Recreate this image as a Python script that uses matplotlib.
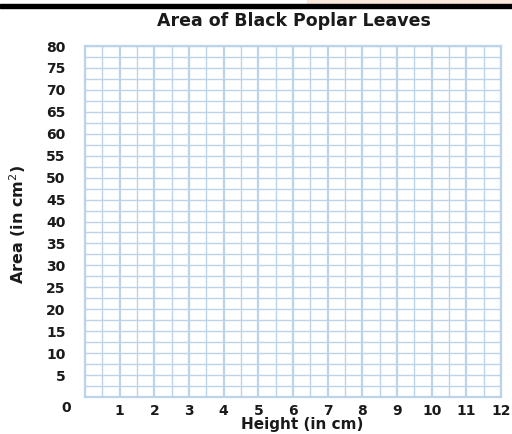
import matplotlib
matplotlib.use("Agg")
import matplotlib.pyplot as plt
from matplotlib.patches import Rectangle

# axis ranges and tick labels of the blank graph
x_ticks = [1, 2, 3, 4, 5, 6, 7, 8, 9, 10, 11, 12]
y_ticks = [5, 10, 15, 20, 25, 30, 35, 40, 45, 50, 55, 60, 65, 70, 75, 80]
x_minor = [i / 2 for i in range(0, 25)]
y_minor = [i * 2.5 for i in range(0, 33)]

W, H = 512, 434
fig = plt.figure(figsize=(W / 100, H / 100), dpi=100)

def px(x, y):
    return x / W, 1 - y / H

grid_col = "#bcd3ea"
ax = fig.add_axes([85 / W, 1 - 397 / H, (501 - 85) / W, (397 - 46) / H])
ax.set_xlim(0, 12)
ax.set_ylim(0, 80)

for v in x_minor:
    lw = 1.6 if float(v).is_integer() else 1.0
    ax.axvline(v, color=grid_col, lw=lw, zorder=1)
for v in y_minor:
    ax.axhline(v, color=grid_col, lw=1.0, zorder=1)

for s in ax.spines.values():
    s.set_color(grid_col)
    s.set_linewidth(1.6)

ax.set_xticks(x_ticks)
ax.set_xticklabels([str(t) for t in x_ticks])
ax.set_yticks(y_ticks)
ax.set_yticklabels([str(t) for t in y_ticks])
ax.tick_params(axis="both", length=0, labelsize=10, colors="#1a1a1a")
ax.tick_params(axis="x", pad=5)
ax.tick_params(axis="y", pad=14)
for lab in ax.get_xticklabels() + ax.get_yticklabels():
    lab.set_fontweight("bold")

# corner zero label
fig.text(*px(71, 408), "0", ha="right", va="center", fontsize=10,
         fontweight="bold", color="#1a1a1a")

fig.text(*px(294, 21), "Area of Black Poplar Leaves", ha="center", va="center",
         fontsize=12.5, fontweight="bold", color="#1a1a1a")
fig.text(*px(302, 425), "Height (in cm)", ha="center", va="center",
         fontsize=11, fontweight="bold", color="#1a1a1a")
fig.text(*px(18, 224), "Area (in cm$^2$)", ha="center", va="center", rotation=90,
         fontsize=11.5, fontweight="bold", color="#1a1a1a")

# top rule and corner tab
fig.patches.append(Rectangle(px(307, 4), (512 - 307) / W, 4 / H,
                             transform=fig.transFigure, color="#fbe8dc", zorder=0))
fig.patches.append(Rectangle(px(0, 7.5), 1, 3.5 / H,
                             transform=fig.transFigure, color="black", zorder=2))

fig.savefig("out.png", dpi=100)
